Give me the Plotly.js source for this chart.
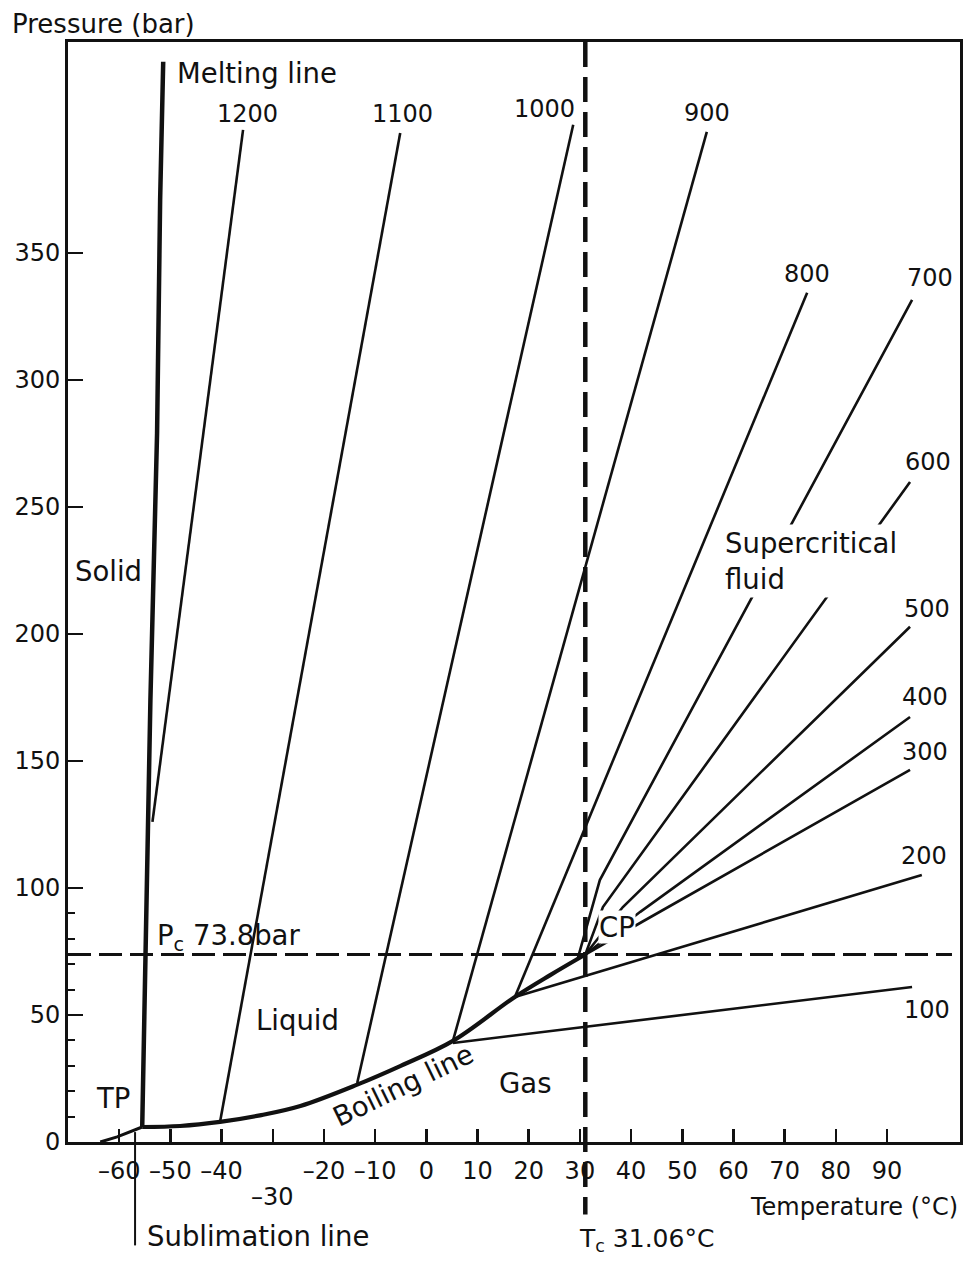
<!DOCTYPE html>
<html>
<head>
<meta charset="utf-8">
<script src="https://cdn.plot.ly/plotly-3.0.1.min.js"></script>
<style>html,body{margin:0;padding:0;background:#fff;}#chart{width:966px;height:1263px;}</style>
</head>
<body>
<div id="chart"></div>
<script>
// ---- Data (temperature in °C, pressure in bar) ----
const sublimationT = [-63.7, -60.4, -55.5];
const sublimationP = [0, 2.0, 5.9];

const meltingT = [-55.5, -54.9, -54.3, -53.9, -52.6, -52.0, -51.4];
const meltingP = [5.9, 73.2, 125.6, 174, 279, 370.9, 425.2];

const boilingT = [-55.5, -48.1, -40.3, -32.5, -24.6, -13.5, -5.0, 5.2, 17.3, 24.2, 31.06];
const boilingP = [5.9, 6.3, 7.9, 10.5, 14.2, 22.6, 30.0, 39.8, 57.1, 65.7, 73.8];

// isochores (density kg/m3)
const isoLabels = ['1200','1100','1000','900','800','700','600','500','400','300','200','100'];
const isoT = [
  [-53.5, -35.8],
  [-40.3, -5.1],
  [-13.5, 28.7],
  [5.2, 54.8],
  [17.3, 74.4],
  [29.6, 33.9, 94.9],
  [31.06, 34.5, 94.5],
  [31.06, 38.4, 94.5],
  [31.06, 41.8, 94.5],
  [31.06, 42.1, 94.5],
  [17.3, 96.8],
  [5.2, 94.9]
];
const isoP = [
  [126, 398.4],
  [7.9, 397.2],
  [23.2, 400.4],
  [39.8, 397.6],
  [57.1, 334.3],
  [72.4, 103.1, 331.5],
  [73.8, 92.5, 259.8],
  [73.8, 92.5, 202.8],
  [73.8, 90.6, 167.3],
  [73.8, 86.6, 146.5],
  [57.1, 105.1],
  [39.0, 61.0]
];
// label anchor positions for isochore labels (T, P)
const isoLabelT = [-35.0, -4.7, 23.0, 54.8, 74.4, 98.4, 98.0, 97.8, 97.4, 97.4, 97.2, 97.8];
const isoLabelP = [404.7, 404.7, 406.7, 405.1, 341.7, 340.2, 267.7, 209.8, 175.2, 153.5, 112.6, 52.0];

const criticalT = 31.06;
const criticalP = 73.8;

const xTickVals = [-60, -50, -40, -30, -20, -10, 0, 10, 20, 30, 40, 50, 60, 70, 80, 90];
const xTickText = ['–60', '–50', '–40', '', '–20', '–10', '0', '10', '20', '30', '40', '50', '60', '70', '80', '90'];
const yTickVals = [0, 50, 100, 150, 200, 250, 300, 350];
const yMinorVals = [10, 20, 30, 40, 60, 70, 80, 90];

// ---- Build chart ----
const FONT = 'DejaVu Sans';
const WORD = 27.5;
const traces = [];
traces.push({x: sublimationT, y: sublimationP, mode: 'lines', line: {color: '#111', width: 3}, hoverinfo: 'skip'});
traces.push({x: meltingT, y: meltingP, mode: 'lines', line: {color: '#111', width: 4.5}, hoverinfo: 'skip'});
for (let i = 0; i < isoLabels.length; i++) {
  traces.push({x: isoT[i], y: isoP[i], mode: 'lines', line: {color: '#111', width: 2.6}, hoverinfo: 'skip'});
}
traces.push({x: boilingT, y: boilingP, mode: 'lines', line: {color: '#111', width: 4.2, shape: 'spline', smoothing: 1}, hoverinfo: 'skip'});

const ann = [];
function txt(text, x, y, opts) {
  ann.push(Object.assign({text: text, x: x, y: y, xref: 'x', yref: 'y', showarrow: false,
    xanchor: 'center', yanchor: 'middle',
    font: {family: FONT, size: WORD, color: '#111'}}, opts || {}));
}
function ptxt(text, x, y, xref, size, opts) {
  ann.push(Object.assign({text: text, x: x, y: y, xref: xref, yref: 'paper', showarrow: false,
    xanchor: 'center', yanchor: 'middle',
    font: {family: FONT, size: size, color: '#111'}}, opts || {}));
}
for (let i = 0; i < isoLabels.length; i++) {
  txt(isoLabels[i], isoLabelT[i], isoLabelP[i], {font: {family: FONT, size: 24, color: '#111'}});
}
txt('Melting line', -49.1, 420.9, {xanchor: 'left'});
txt('Solid', -69.0, 224.8, {xanchor: 'left'});
txt('Liquid', -25.2, 48.0);
txt('Gas', 19.3, 23.2);
txt('TP', -61.2, 17.3);
txt('Boiling line', -4.6, 22.5, {textangle: -26});
txt('Supercritical<br>fluid', 57.8, 228.7, {xanchor: 'left', align: 'left', bgcolor: '#fff', borderpad: 2});
txt('CP', 37.3, 84.6, {bgcolor: '#fff', borderpad: 0});
txt('P<sub>c</sub> 73.8bar', -53.0, 80.5, {xanchor: 'left'});
ptxt('–30', -30, -0.05, 'x', 24);
ptxt('T<sub>c</sub> 31.06°C', 29.4, -0.089, 'x', 25, {xanchor: 'left'});
ptxt('Temperature (°C)', 1.0, -0.059, 'paper', 24, {xanchor: 'right'});
ptxt('Sublimation line', -54.9, -0.0855, 'x', WORD, {xanchor: 'left'});
ptxt('Pressure (bar)', -0.065, 1.0164, 'paper', 26, {xanchor: 'left'});

const shapes = [
  // critical pressure dashed line
  {type: 'line', xref: 'paper', yref: 'y', x0: 0, x1: 0.991, y0: criticalP, y1: criticalP,
   line: {color: '#111', width: 3, dash: '23px,8px'}},
  // critical temperature dashed line (extends below the axis)
  {type: 'line', xref: 'x', yref: 'paper', x0: criticalT, x1: criticalT, y0: 1, y1: -0.066,
   line: {color: '#111', width: 4.5, dash: '25px,10px'}},
  // leader for the sublimation line label
  {type: 'line', xref: 'x', yref: 'paper', x0: -56.9, x1: -56.9, y0: 0.009, y1: -0.094,
   line: {color: '#111', width: 2}}
];

const layout = {
  width: 966, height: 1263,
  margin: {l: 68, r: 6, t: 42, b: 121},
  paper_bgcolor: '#fff', plot_bgcolor: '#fff',
  showlegend: false,
  font: {family: FONT, color: '#111'},
  xaxis: {
    range: [-70, 104.26], showgrid: false, zeroline: false,
    showline: true, linecolor: '#111', linewidth: 3, mirror: true,
    ticks: 'inside', ticklen: 13, tickwidth: 2.5, tickcolor: '#111',
    tickmode: 'array', tickvals: xTickVals, ticktext: xTickText, tickangle: 0,
    ticklabelstandoff: 5,
    tickfont: {family: FONT, size: 24, color: '#111'}
  },
  yaxis: {
    range: [0, 433], showgrid: false, zeroline: false,
    showline: true, linecolor: '#111', linewidth: 3, mirror: true,
    ticks: 'inside', ticklen: 15, tickwidth: 2.5, tickcolor: '#111',
    tickmode: 'array', tickvals: yTickVals,
    tickfont: {family: FONT, size: 24, color: '#111'},
    minor: {tickmode: 'array', tickvals: yMinorVals, ticks: 'inside', ticklen: 7, tickwidth: 2, tickcolor: '#111', showgrid: false}
  },
  annotations: ann,
  shapes: shapes
};

Plotly.newPlot('chart', traces, layout, {displayModeBar: false, staticPlot: true});
</script>
</body>
</html>
